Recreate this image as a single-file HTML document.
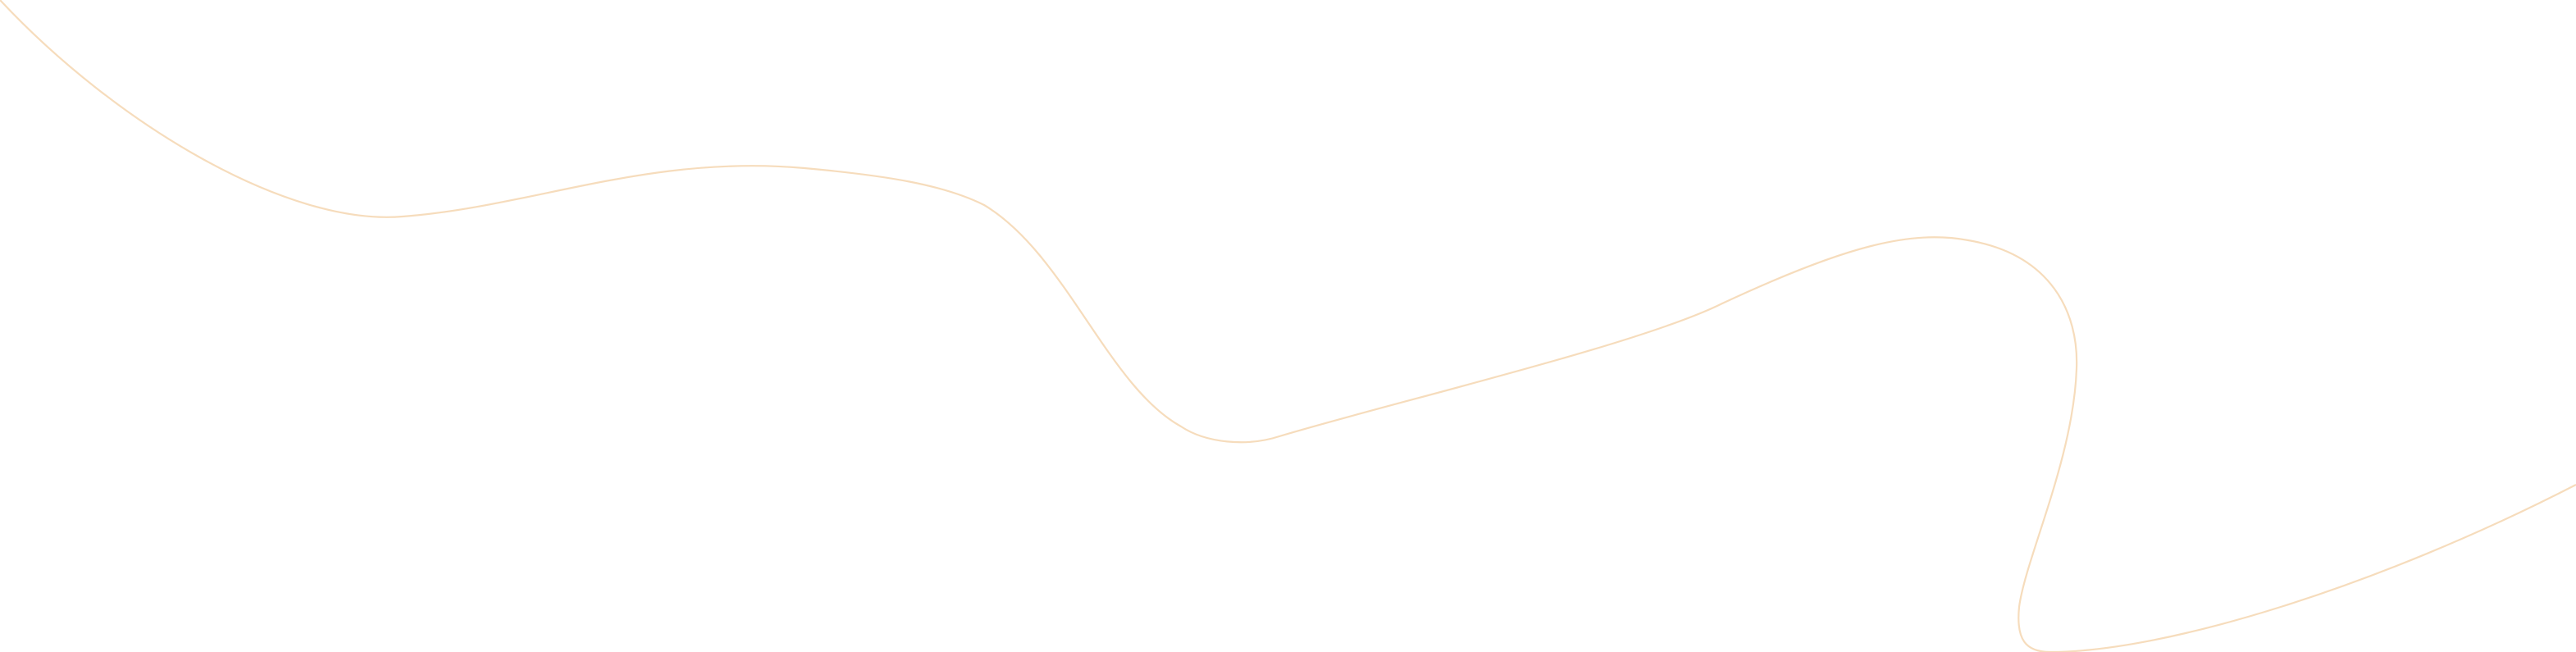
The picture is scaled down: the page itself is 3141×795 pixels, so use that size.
<!DOCTYPE html>
<html><head><meta charset="utf-8"><style>
html,body{margin:0;padding:0;background:#fff;width:3141px;height:795px;overflow:hidden}
svg{display:block}
</style></head><body>
<svg width="3141" height="795" viewBox="0 0 3141 795" xmlns="http://www.w3.org/2000/svg">
<path fill="none" stroke="#f6dcbc" stroke-width="2.2"
d="M0,0 C140,150 350,276 491,264 C650,252 790,188 981,205 C1080,214 1150,225 1200,250 C1300,310 1350,470 1440,520 C1470,540 1520,545 1560,532 C1700,490 2000,420 2100,370 C2250,300 2330,280 2400,293 C2500,310 2535,380 2532,450 C2528,560 2470,680 2462,740 C2458,780 2470,795 2500,795 C2640,795 2900,715 3141,591"/>
</svg>
</body></html>
